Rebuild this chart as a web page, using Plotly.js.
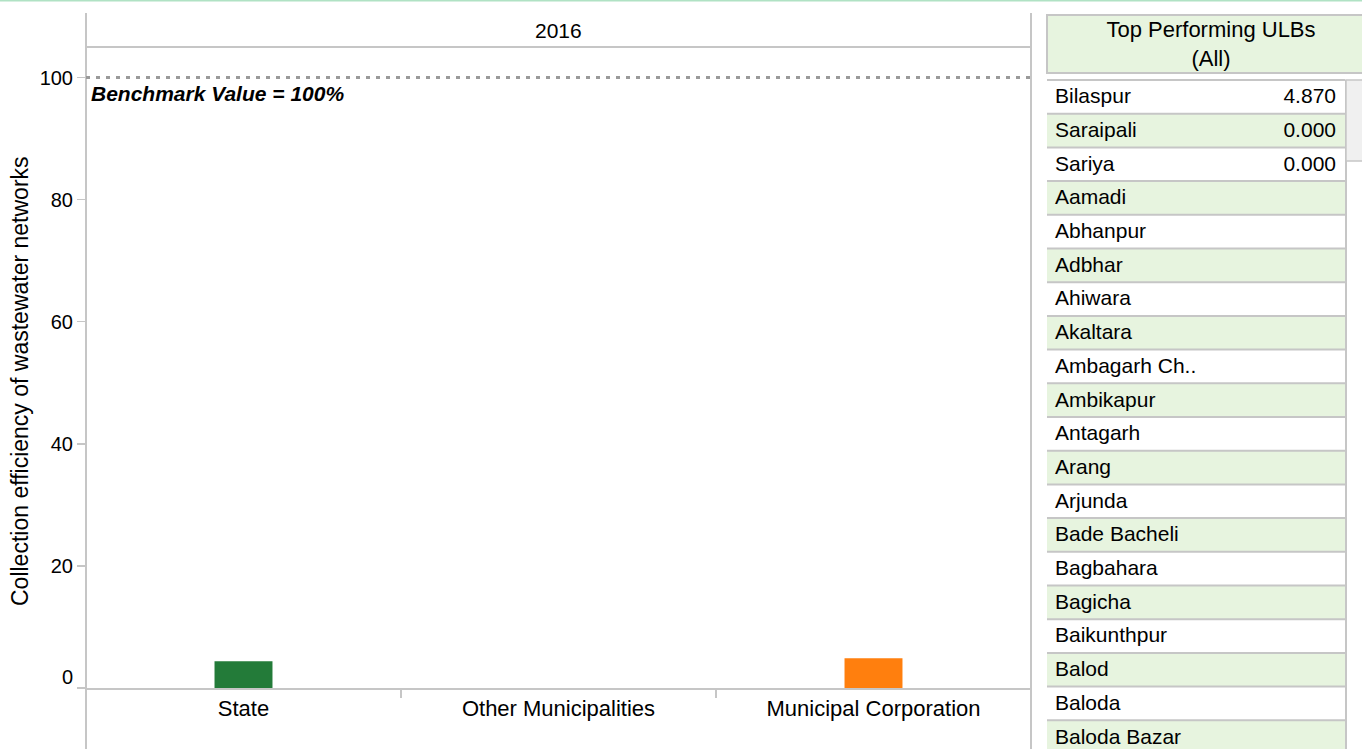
<!DOCTYPE html>
<html><head><meta charset="utf-8">
<script src="https://cdn.plot.ly/plotly-3.0.1.min.js"></script>
<style>
html,body{margin:0;padding:0;background:#fff;overflow:hidden}
#wrap{width:1362px;height:749px;overflow:hidden;position:relative}
#chart{width:1362px;height:760px}
</style>
</head><body><div id="wrap"><div id="chart"></div></div>
<script>
// ---------- data ----------
const categories = ["State", "Other Municipalities", "Municipal Corporation"];
const efficiency = [4.4, null, 4.87];
const barColors = ["#237b39", "#1f77b4", "#ff7f0e"];
const yearLabel = "2016";
const benchmarkValue = 100;
const benchmarkText = "Benchmark Value = 100%";
const yTicks = [0, 20, 40, 60, 80, 100];
const yTitle = "Collection efficiency of wastewater networks";
const tableTitle = "Top Performing ULBs<br>(All)";
const ulbNames = ["Bilaspur", "Saraipali", "Sariya", "Aamadi", "Abhanpur", "Adbhar", "Ahiwara",
  "Akaltara", "Ambagarh Ch..", "Ambikapur", "Antagarh", "Arang", "Arjunda", "Bade Bacheli",
  "Bagbahara", "Bagicha", "Baikunthpur", "Balod", "Baloda", "Baloda Bazar"];
const ulbValues = [4.870, 0.000, 0.000, null, null, null, null, null, null, null, null, null,
  null, null, null, null, null, null, null, null];

// ---------- layout constants ----------
const W = 1362, FH = 760;
const fx = p => p / W;
const fy = p => 1 - p / FH;
const FONT = "Arial, 'Liberation Sans', sans-serif";
const GRID = "#c6c6c6";
const GREEN_FILL = "#e7f4df";
const plotL = 86, plotR = 1031, paneTop = 13, headBot = 47, axisY = 688, y100 = 77.5;
const tabL = 1047, tabR = 1345, tabTop = 80, rowH = 33.7, tableOffset = 16.5;

const yMax = (axisY - headBot) / ((axisY - y100) / benchmarkValue);

const bars = {
  type: "bar", x: categories, y: efficiency, width: 0.184,
  marker: {color: barColors, line: {width: 0}}, hoverinfo: "x+y", showlegend: false
};

const rowFills = ulbNames.map((_, i) => i % 2 ? GREEN_FILL : "#ffffff");
const namesTable = {
  type: "table",
  domain: {x: [fx(tabL), fx(tabR)], y: [0, fy(tabTop - tableOffset)]},
  header: {values: [], height: 0, line: {width: 0}, fill: {color: "rgba(0,0,0,0)"}},
  cells: {
    values: [ulbNames], align: "left", height: rowH,
    fill: {color: [rowFills]}, line: {width: 0, color: "rgba(0,0,0,0)"},
    font: {family: FONT, size: 21, color: "#000"}
  }
};
const valuesTable = {
  type: "table",
  domain: {x: [fx(tabL), fx(tabR - 1)], y: [0, fy(tabTop - tableOffset)]},
  header: {values: [], height: 0, line: {width: 0}, fill: {color: "rgba(0,0,0,0)"}},
  cells: {
    values: [ulbValues.map(v => v == null ? "" : v.toFixed(3))], align: "right", height: rowH,
    fill: {color: "rgba(0,0,0,0)"}, line: {width: 0, color: "rgba(0,0,0,0)"},
    font: {family: FONT, size: 21, color: "#000"}
  }
};

const shapes = [
  // top accent line
  {type: "line", xref: "paper", yref: "paper", x0: 0, x1: 1, y0: fy(0.5), y1: fy(0.5), line: {color: "#b0e2c4", width: 2}},
  // pane borders
  {type: "line", xref: "paper", yref: "paper", x0: fx(plotL), x1: fx(plotL), y0: fy(paneTop), y1: 0, line: {color: GRID, width: 2}},
  {type: "line", xref: "paper", yref: "paper", x0: fx(plotR), x1: fx(plotR), y0: fy(paneTop), y1: 0, line: {color: GRID, width: 2}},
  {type: "line", xref: "paper", yref: "paper", x0: fx(plotL), x1: fx(plotR), y0: fy(headBot), y1: fy(headBot), line: {color: GRID, width: 2}},
  // benchmark
  {type: "line", xref: "x domain", yref: "y", x0: 0, x1: 1, y0: benchmarkValue, y1: benchmarkValue, line: {color: "#9a9a9a", width: 3, dash: "4px,6px"}},
  // scrollbar
  {type: "line", xref: "paper", yref: "paper", x0: fx(tabR + 1), x1: fx(tabR + 1), y0: fy(tabTop), y1: 0, line: {color: GRID, width: 2}},
  {type: "rect", xref: "paper", yref: "paper", x0: fx(tabR + 1), x1: fx(1366), y0: fy(tabTop), y1: fy(161), fillcolor: "#f0f0f0", line: {color: GRID, width: 1.5}}
];
for (let i = 0; i <= ulbNames.length; i++) {
  const yy = tabTop + i * rowH;
  shapes.push({type: "line", xref: "paper", yref: "paper", x0: fx(tabL), x1: fx(tabR), y0: fy(yy), y1: fy(yy), line: {color: GRID, width: 2}});
}

const annotations = [
  {text: yearLabel, xref: "x domain", x: 0.5, yref: "paper", y: fy((paneTop + headBot) / 2), yanchor: "middle", showarrow: false, font: {family: FONT, size: 21, color: "#000"}},
  {text: "<b><i>" + benchmarkText + "</i></b>", xref: "x domain", x: 0, xanchor: "left", xshift: 3, yref: "y", y: benchmarkValue, yanchor: "top", yshift: -2, showarrow: false, font: {family: FONT, size: 21, color: "#000"}},
  {text: yTitle, textangle: -90, xref: "paper", x: fx(20), xanchor: "center", yref: "paper", y: fy(381), yanchor: "middle", showarrow: false, font: {family: FONT, size: 23, color: "#000"}},
  {text: String(yTicks[0]), xref: "x domain", x: 0, xanchor: "right", xshift: -11, yref: "y", y: 0, yanchor: "middle", yshift: 11, showarrow: false, font: {family: FONT, size: 20, color: "#000"}},
  {text: tableTitle, xref: "paper", x: fx(1211), xanchor: "center", yref: "paper", y: fy(14), yanchor: "top", width: 326, height: 56, borderpad: 0, borderwidth: 2, bordercolor: GRID, bgcolor: GREEN_FILL, showarrow: false, font: {family: FONT, size: 22, color: "#000"}}
];

const layout = {
  width: W, height: FH,
  margin: {l: 0, r: 0, t: 0, b: 0},
  paper_bgcolor: "#ffffff", plot_bgcolor: "#ffffff",
  font: {family: FONT, size: 21, color: "#000"},
  showlegend: false,
  xaxis: {
    type: "category", domain: [fx(plotL), fx(plotR)], range: [-0.5, categories.length - 0.5],
    showline: true, linecolor: GRID, linewidth: 2, ticks: "outside", tickson: "boundaries",
    ticklen: 8, tickwidth: 2, tickcolor: GRID, showgrid: false, zeroline: false,
    tickfont: {family: FONT, size: 22, color: "#000"}, fixedrange: true
  },
  yaxis: {
    domain: [fy(axisY), fy(headBot)], range: [0, yMax],
    tickvals: yTicks, ticktext: yTicks.map(v => v === 0 ? "" : String(v)),
    showline: false, ticks: "outside", ticklen: 8, tickwidth: 1.5, tickcolor: GRID,
    showgrid: false, zeroline: false, tickfont: {family: FONT, size: 20, color: "#000"}, fixedrange: true
  },
  shapes: shapes,
  annotations: annotations
};

Plotly.newPlot("chart", [bars, namesTable, valuesTable], layout, {displayModeBar: false, staticPlot: true});
</script>
</body></html>
